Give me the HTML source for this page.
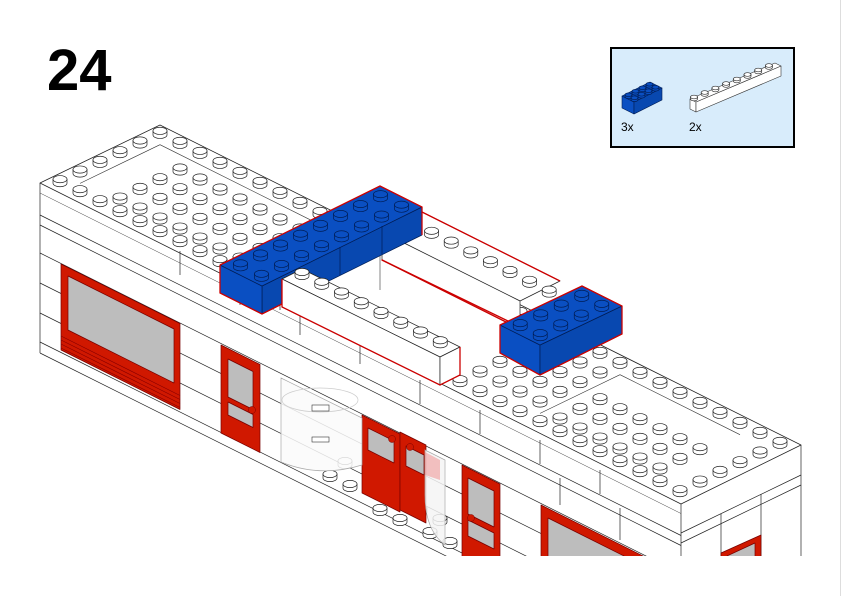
<!DOCTYPE html>
<html><head><meta charset="utf-8">
<style>
html,body{margin:0;padding:0;background:#fff;}
body{width:842px;height:596px;overflow:hidden;position:relative;font-family:"Liberation Sans",sans-serif;}
#num{position:absolute;left:47px;top:36px;font-size:58px;font-weight:bold;line-height:70px;color:#000;}
svg{position:absolute;left:0;top:0;}
</style></head><body>
<svg id="sv" width="842" height="596" viewBox="0 0 842 596" xmlns="http://www.w3.org/2000/svg">
<defs><clipPath id="cp"><rect x="0" y="0" width="842" height="556"/></clipPath></defs>
<line x1="840.5" y1="0" x2="840.5" y2="596" stroke="#ddd" stroke-width="1"/>
<rect x="611" y="48" width="183" height="99" fill="#d8ecfb" stroke="#000" stroke-width="2"/>
<text x="621" y="131" font-family="Liberation Sans, sans-serif" font-size="12" fill="#000">3x</text>
<text x="689" y="131" font-family="Liberation Sans, sans-serif" font-size="12" fill="#000">2x</text>
<g id="main" clip-path="url(#cp)"></g>
<g id="legend"></g>
</svg>
<div id="num">24</div>
<script>
(function(){
var o=[];
function P(i,j,z){return [160+20*i-20*j,125+10*i+9.67*j-(z||0)];}
function poly(pts,f,s,w){return '<polygon points="'+pts.map(function(p){return p[0].toFixed(1)+','+p[1].toFixed(1)}).join(' ')+'" fill="'+f+'" stroke="'+(s||'none')+'" stroke-width="'+(w||0.7)+'" stroke-linejoin="round"/>';}
function line(x1,y1,x2,y2,c,w){return '<line x1="'+x1+'" y1="'+y1+'" x2="'+x2+'" y2="'+y2+'" stroke="'+(c||'#222')+'" stroke-width="'+(w||0.7)+'"/>';}
function para(x,y,w,h,f,s){return poly([[x,y],[x+w,y+w/2],[x+w,y+w/2+h],[x,y+h]],f,s);}
function stud(cx,cy,f,s,rx,ry,h){rx=rx||7;ry=ry||3.6;h=h||4;
 return '<path d="M'+(cx-rx)+','+(cy-h)+'v'+h+'a'+rx+','+ry+' 0 0 0 '+(2*rx)+',0v-'+h+'z" fill="'+f+'" stroke="'+s+'" stroke-width="0.7"/><ellipse cx="'+cx+'" cy="'+(cy-h)+'" rx="'+rx+'" ry="'+ry+'" fill="'+f+'" stroke="'+s+'" stroke-width="0.7"/>';}
// building top face
o.push(poly([[40,183],[160,125],[801,445],[681,504]],'#fff','#222',0.8));
// front face lines
o.push(line(40,183,40,353));
[215,225,253,283,313,342,353].forEach(function(k){o.push(line(40,k,681,k+320.5));});
o.push(line(40,193,681,513.5,'#444',0.5));
// right face
o.push(line(681,504,681,556));o.push(line(801,445,801,556));
[533,543].forEach(function(k){o.push(line(681,k,801,k-58));});
o.push(line(721,514,721,556));o.push(line(761,494,761,556));
// vertical joints
[[180,251,275],[240,281,305],[300,311,335],[160,330,345],[120,300,324],[420,380,404],[480,410,434],[540,440,464],[600,470,494],[360,340,364],[280,290,310],[620,508,540],[560,478,505],[420,450,470]].forEach(function(a){o.push(line(a[0],a[1],a[0],a[2]));});
// studs on roof
var st=[];
function add(i,j,z){var p=P(i+0.5,j+0.5,z);st.push(p);}
for(var i=0;i<32;i++){add(i,0,0);add(i,5,0);}
for(var j=1;j<5;j++){[0,9,10,20,21,22,23,31].forEach(function(i){add(i,j,0);});}
for(var i=2;i<=8;i++)for(var j=1;j<=4;j++)add(i,j,-7);
for(var i=24;i<=29;i++)for(var j=2;j<=4;j++)add(i,j,-7);
st.sort(function(a,b){return a[1]-b[1];});
st.forEach(function(p){o.push(stud(p[0],p[1],'#fff','#222'));});
// recess lines
o.push(line(P(1,1)[0],P(1,1)[1],P(9,1)[0],P(9,1)[1],'#333',0.6));
o.push(line(P(1,1)[0],P(1,1)[1],P(1,5)[0],P(1,5)[1],'#333',0.6));
o.push(line(P(24,1)[0],P(24,1)[1],P(30,1)[0],P(30,1)[1],'#333',0.6));
o.push(line(P(24,1)[0],P(24,1)[1],P(24,5)[0],P(24,5)[1],'#333',0.6));
// large window left
var R='#d01800',G='#bdbdbd';
o.push(para(61,264,119,86,R,'#700'));
o.push(para(68,276,106,54,G,'#700'));
for(var k=0;k<4;k++)o.push(line(61,336+k*4,180,395.5+k*4,'#800',0.6));
// door1
o.push(para(221,345,39,88,R,'#700'));
o.push(para(228,359,25,38,G,'#700'));
o.push(para(228,402,25,13,G,'#700'));
o.push('<circle cx="252" cy="410" r="3.5" fill="'+R+'" stroke="#700" stroke-width="0.5"/>');
// ground recess studs
[[330,478],[350,488],[370,480],[345,465],[390,500],[410,490],[380,512],[400,522],[420,512],[440,522],[430,535],[450,545]].forEach(function(p){o.push(stud(p[0],p[1],'#fff','#222'));});
// doors 2/3
o.push(para(362,415,38,78,R,'#700'));
o.push(para(368,428,26,22,G,'#700'));
o.push(para(400,432,26,78,R,'#700'));
o.push(para(406,446,18,20,G,'#700'));
o.push('<circle cx="392" cy="439" r="3.5" fill="'+R+'" stroke="#700" stroke-width="0.5"/>');
o.push('<circle cx="410" cy="447" r="3.5" fill="'+R+'" stroke="#700" stroke-width="0.5"/>');
// transparent cylinders
o.push('<path d="M281,378 L281,462 Q320,478 362,465 L362,418 Z" fill="#fafafa" fill-opacity="0.85" stroke="#aaa" stroke-width="0.7"/>');
o.push('<ellipse cx="320" cy="400" rx="38" ry="12" fill="none" stroke="#ccc" stroke-width="0.7"/>');
o.push('<rect x="312" y="405" width="17" height="6" fill="#fff" stroke="#333" stroke-width="0.6"/>');
o.push('<rect x="312" y="437" width="17" height="5" fill="#fff" stroke="#333" stroke-width="0.6"/>');
o.push('<path d="M425,450 L445,460 L445,545 Q425,530 425,495 Z" fill="#f4f4f4" fill-opacity="0.85" stroke="#aaa" stroke-width="0.7"/>');
o.push('<path d="M425,452 L440,460 L440,480 L425,475Z" fill="#e88" fill-opacity="0.5"/>');
// door4
o.push(para(462,465,38,95,R,'#700'));
o.push(para(468,478,26,36,G,'#700'));
o.push(para(468,520,26,16,G,'#700'));
o.push('<circle cx="471" cy="518" r="3.5" fill="'+R+'" stroke="#700" stroke-width="0.5"/>');
// window right
o.push(para(541,505,110,70,R,'#700'));
o.push(para(548,518,96,60,G,'#700'));
// small right window
o.push(poly([[721,553],[761,535],[761,560],[721,560]],R,'#700'));
o.push(poly([[727,556],[755,543],[755,560],[727,560]],G,'#700'));

// NEW PARTS
var B='#0a4fc2',BD='#0848b0',BS='#001d55';
// white brick 2 (back)
o.push(poly([[382,232],[422,212],[560,281],[520,301]],'#fff','#222'));
o.push(poly([[382,232],[520,301],[520,329],[382,260]],'#fff','#222'));
for(var k=0;k<8;k++){var cx=412+k*19.6-10,cy=227+k*9.8;o.push(stud(cx+10,cy-2,'#fff','#222'));}
o.push(line(380,240,380,290,'#333',0.6));
o.push(poly([[382,260],[520,329]],'none','#c00',1.3));
o.push('<polyline points="422,212 560,281" fill="none" stroke="#c00" stroke-width="1.3"/>');
o.push('<polyline points="382,260 510,322" fill="none" stroke="#c00" stroke-width="1.3"/>');
// blue left L
var A=[220,265],Bp=[380,186],C=[422,207],D=[262,286];
o.push(poly([D,C,[C[0],C[1]+28],[D[0],D[1]+28]],BD,BS));
o.push(poly([A,D,[D[0],D[1]+28],[A[0],A[1]+28]],B,BS));
o.push(poly([A,Bp,C,D],B,BS));
o.push(line(340,247,340,275,BS,0.7));o.push(line(382,226,382,254,BS,0.7));
var bs=[];
for(var k=0;k<8;k++)for(var m=0;m<2;m++){var x=A[0]+(k+0.5)/8*(Bp[0]-A[0])+(m+0.5)/2*(D[0]-A[0]),y=A[1]+(k+0.5)/8*(Bp[1]-A[1])+(m+0.5)/2*(D[1]-A[1]);bs.push([x,y+2]);}
bs.sort(function(a,b){return a[1]-b[1];});
bs.forEach(function(p){o.push(stud(p[0],p[1],B,BS));});
o.push('<polyline points="220,265 220,293 262,314 282,304 282,279" fill="none" stroke="#c00" stroke-width="1.3"/>');
o.push('<polyline points="220,265 380,186 422,207 422,235" fill="none" stroke="#c00" stroke-width="1.3"/>');
// white brick 1 (front)
var W1=[[282,279],[302,269],[460,347],[440,357]];
o.push(poly(W1,'#fff','#222'));
o.push(poly([[282,279],[440,357],[440,385],[282,307]],'#fff','#222'));
o.push(poly([[440,357],[460,347],[460,375],[440,385]],'#fff','#222'));
for(var k=0;k<8;k++){o.push(stud(302+k*19.75,276+k*9.75,'#fff','#222'));}
o.push('<polyline points="282,279 282,307 440,385 460,375 460,347" fill="none" stroke="#c00" stroke-width="1.3"/>');
// blue right brick
var a=[500,325],b=[582,286],c=[622,306],d=[540,345];
o.push(poly([a,d,[540,375],[500,353]],B,BS));
o.push(poly([d,c,[622,334],[540,375]],BD,BS));
o.push(poly([a,b,c,d],B,BS));
var rs=[];
for(var k=0;k<4;k++)for(var m=0;m<2;m++){var x=a[0]+(k+0.5)/4*(b[0]-a[0])+(m+0.5)/2*(d[0]-a[0]),y=a[1]+(k+0.5)/4*(b[1]-a[1])+(m+0.5)/2*(d[1]-a[1]);rs.push([x,y+2]);}
rs.sort(function(p,q){return p[1]-q[1];});
rs.forEach(function(p){o.push(stud(p[0],p[1],B,BS));});
o.push('<polygon points="500,325 582,286 622,306 622,334 540,375 500,353" fill="none" stroke="#c00" stroke-width="1.3"/>');
document.getElementById('main').innerHTML=o.join('');

// legend
var L=[];
var la=[622,96],lb=[650,82],lc=[662,88],ld=[634,102];
L.push(poly([la,ld,[634,114],[622,108]],B,BS,0.6));
L.push(poly([ld,lc,[662,100],[634,114]],BD,BS,0.6));
L.push(poly([la,lb,lc,ld],B,BS,0.6));
for(var k=0;k<4;k++)for(var m=0;m<2;m++){var x=la[0]+(k+0.5)/4*(lb[0]-la[0])+(m+0.5)/2*(ld[0]-la[0]),y=la[1]+(k+0.5)/4*(lb[1]-la[1])+(m+0.5)/2*(ld[1]-la[1]);L.push(stud(x,y+1,B,BS,3.5,1.8,2));}
// white 1x8
var wa=[690,99],wb=[775,63],wc=[781,66],wd=[696,102];
L.push(poly([wa,wd,[696,112],[690,109]],'#fff','#333',0.6));
L.push(poly([wd,wc,[781,76],[696,112]],'#fff','#333',0.6));
L.push(poly([wa,wb,wc,wd],'#fff','#333',0.6));
for(var k=0;k<8;k++){L.push(stud(694+k*10.7,99-k*4.5,'#fff','#333',3.5,1.8,2));}
document.getElementById('legend').innerHTML=L.join('');
})();
</script>
</body></html>
